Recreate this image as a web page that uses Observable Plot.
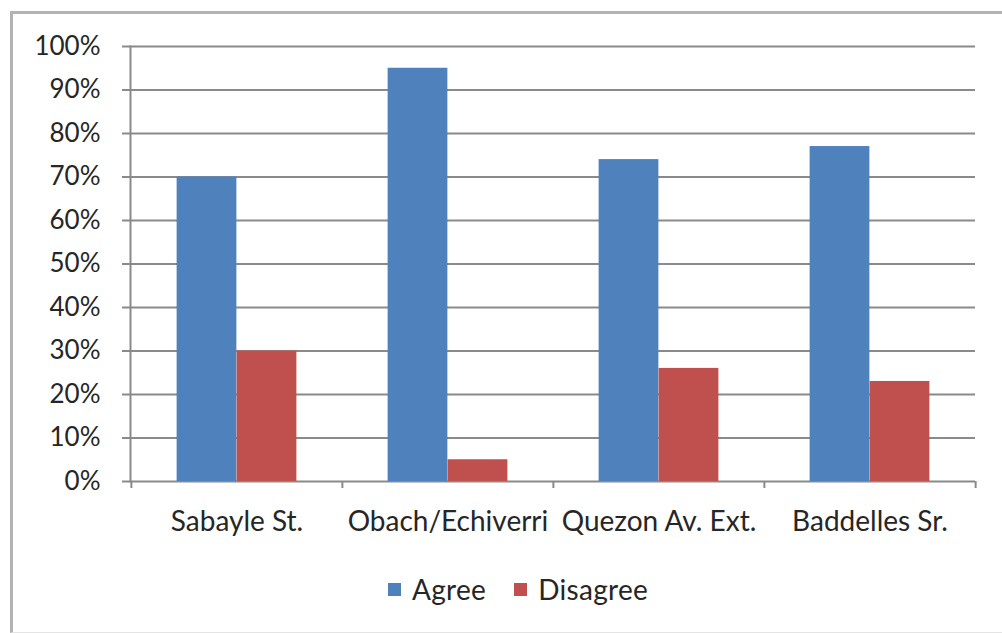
<!DOCTYPE html>
<html>
<head>
<meta charset="utf-8">
<script src="https://cdn.jsdelivr.net/npm/d3@7"></script>
<script src="https://cdn.jsdelivr.net/npm/@observablehq/plot@0.6"></script>
<style>
  html, body { margin: 0; padding: 0; background: #fff; }
  #wrap { position: relative; width: 1002px; height: 633px; overflow: hidden; font-family: Lato, "Open Sans", sans-serif; color: #262626; }
  #frame { position: absolute; left: 10px; top: 11px; width: 1100px; height: 618px;
           border-left: 3px solid #b3b3b3; border-top: 3px solid #b3b3b3; border-bottom: 1px solid #e4e4e4; }
  #chart { position: absolute; left: 0; top: 0; }
  #legend { position: absolute; left: 388px; top: 572px; display: flex; align-items: center; font-size: 28px; letter-spacing: 0.3px; }
  #legend .item { display: flex; align-items: center; margin-right: 28px; }
  #legend .swatch { width: 13px; height: 13px; margin-right: 11px; }
</style>
</head>
<body>
<div id="wrap">
  <div id="frame"></div>
  <div id="chart"></div>
  <div id="legend"></div>
</div>
<script>
// Survey responses by street
const categories = ["Sabayle St.", "Obach/Echiverri", "Quezon Av. Ext.", "Baddelles Sr."];
const series = ["Agree", "Disagree"];
const agree = [70, 95, 74, 77];
const disagree = [30, 5, 26, 23];
const yTicks = [0, 10, 20, 30, 40, 50, 60, 70, 80, 90, 100];
const colors = ["#4F81BD", "#C0504D"];

const rows = categories.flatMap((c, i) => [
  {category: c, series: series[0], value: agree[i]},
  {category: c, series: series[1], value: disagree[i]}
]);

const W = 1002, H = 545;
const mL = 130, mR = 27, mT = 46, mB = 64;
const band = (W - mL - mR) / categories.length;
const barW = 60;
const outer = (band - 2 * barW) / 2;
const gray = "#8a8a8a";
const fontSize = 26;

const chart = Plot.plot({
  width: W,
  height: H,
  marginLeft: mL,
  marginRight: mR,
  marginTop: mT,
  marginBottom: mB,
  style: {fontFamily: "Lato, 'Open Sans', sans-serif", fontSize: fontSize + "px", color: "#262626", background: "transparent"},
  x: {domain: categories, padding: 0, label: null},
  y: {domain: [0, 100], label: null},
  marks: [
    Plot.gridY(yTicks, {stroke: gray, strokeOpacity: 1, strokeWidth: 2}),
    Plot.barY(rows.filter(d => d.series === series[0]), {
      x: "category", y: "value", fill: colors[0],
      insetLeft: outer, insetRight: band - outer - barW
    }),
    Plot.barY(rows.filter(d => d.series === series[1]), {
      x: "category", y: "value", fill: colors[1],
      insetLeft: outer + barW, insetRight: outer
    }),
    Plot.frame({anchor: "left", stroke: gray, strokeWidth: 2}),
    Plot.axisY(yTicks, {
      label: null, tickSize: 8, tickPadding: 22, stroke: gray, strokeWidth: 2,
      tickFormat: d => d + "%", fontSize: fontSize, fill: "#262626"
    }),
    // category separators below the baseline
    Plot.axisX(categories, {label: null, tickSize: 7, tickFormat: () => "", dx: -band / 2, stroke: gray, strokeWidth: 2}),
    Plot.axisX(categories.slice(-1), {label: null, tickSize: 7, tickFormat: () => "", dx: band / 2, stroke: gray, strokeWidth: 2}),
    Plot.axisX(categories, {label: null, tickSize: 0, tickPadding: 30, fontSize: 28, fill: "#262626"})
  ]
});
document.getElementById("chart").appendChild(chart);

const legend = document.getElementById("legend");
series.forEach((s, i) => {
  const item = document.createElement("div");
  item.className = "item";
  const sw = document.createElement("span");
  sw.className = "swatch";
  sw.style.background = colors[i];
  const label = document.createElement("span");
  label.textContent = s;
  item.appendChild(sw);
  item.appendChild(label);
  legend.appendChild(item);
});
</script>
</body>
</html>
